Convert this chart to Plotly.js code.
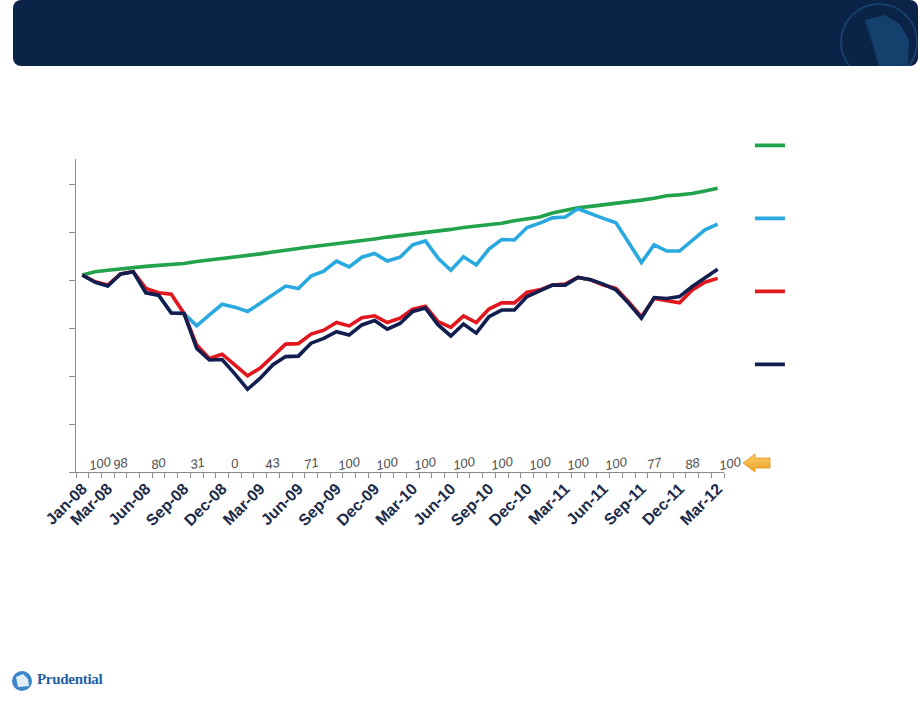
<!DOCTYPE html>
<html>
<head>
<meta charset="utf-8">
<script src="https://cdn.plot.ly/plotly-3.0.1.min.js"></script>
<style>
  body { margin: 0; background: #fff; }
  #page { position: relative; width: 919px; height: 704px; overflow: hidden; }
  #chart { position: absolute; left: 0; top: 0; width: 919px; height: 704px; }
  #header { position: absolute; left: 13px; top: 0; width: 905px; height: 66px; background: #0b2346; border-radius: 8px; overflow: hidden; }
  #header svg { position: absolute; left: 0; top: 0; }
  #arrow { position: absolute; left: 740px; top: 450px; }
  #brand { position: absolute; left: 10px; top: 668px; height: 26px; }
  #brand span { position: absolute; left: 27px; top: 3px; font-family: "Liberation Serif", "DejaVu Serif", serif; font-weight: bold; font-size: 15px; letter-spacing: -0.3px; color: #1f5fa6; white-space: nowrap; }
</style>
</head>
<body>
<div id="page">
  <div id="chart"></div>
  <div id="header">
    <svg width="905" height="66">
      <circle cx="866" cy="42" r="38" fill="none" stroke="#17406d" stroke-width="2"></circle>
      <path d="M852,20 L872,15 L887,24 L896,40 L895,66 L866,66 L860,45 Z" fill="#14406e"></path>
      <path d="M852,20 L860,45 L866,66" fill="none" stroke="#0f3560" stroke-width="1.5"></path>
    </svg>
  </div>
  <svg id="arrow" width="34" height="26">
    <defs>
      <linearGradient id="gold" x1="0" y1="0" x2="0" y2="1">
        <stop offset="0" stop-color="#fbd06a"></stop>
        <stop offset="1" stop-color="#eda023"></stop>
      </linearGradient>
    </defs>
    <path d="M3,13 L15,4 L15,8 L30,8 L30,18 L15,18 L15,22 Z" fill="url(#gold)" stroke="#e0961a" stroke-width="0.8"></path>
  </svg>
  <div id="brand">
    <svg width="24" height="26">
      <circle cx="12" cy="13" r="10" fill="#3a86c8"></circle>
      <path d="M6,9 L13,6 L18,11 L19,18 L8,19 Z" fill="#ffffff" opacity="0.85"></path>
    </svg>
    <span>Prudential</span>
  </div>
</div>
<script>
// month index 0 = Jan-08 ... 50 = Mar-12
const tickLabels = ["Jan-08", "Mar-08", "Jun-08", "Sep-08", "Dec-08", "Mar-09", "Jun-09", "Sep-09", "Dec-09",
  "Mar-10", "Jun-10", "Sep-10", "Dec-10", "Mar-11", "Jun-11", "Sep-11", "Dec-11", "Mar-12"];
const notes = ["100", "98", "80", "31", "0", "43", "71", "100", "100", "100", "100", "100", "100", "100", "100", "77", "88", "100"];

const greenLine = [100.0, 100.7, 101.0, 101.3, 101.5, 101.8, 102.0, 102.2, 102.4, 102.8,
  103.1, 103.4, 103.7, 104.1, 104.4, 104.8, 105.2, 105.6, 105.9, 106.2,
  106.5, 106.9, 107.2, 107.5, 107.9, 108.2, 108.5, 108.9, 109.2, 109.5,
  109.9, 110.2, 110.5, 110.8, 111.3, 111.7, 112.1, 112.9, 113.5, 114.0,
  114.3, 114.6, 114.9, 115.3, 115.6, 116.0, 116.5, 116.7, 117.0, 117.5, 118.1];
const blueLine = [100.0, 98.5, 97.7, 100.2, 100.7, 96.3, 95.8, 92.1, 92.0, 89.4,
  91.7, 93.9, 93.3, 92.4, 94.1, 95.8, 97.7, 97.2, 99.8, 100.8,
  102.9, 101.7, 103.7, 104.5, 102.9, 103.7, 106.3, 107.1, 103.5, 101.0,
  103.8, 102.1, 105.4, 107.4, 107.3, 109.9, 110.8, 111.9, 112.1, 113.8,
  112.7, 111.8, 110.9, 106.9, 102.6, 106.3, 105.0, 105.0, 107.3, 109.4, 110.6];
const redLine = [100.0, 98.6, 97.9, 100.2, 100.7, 97.2, 96.3, 96.0, 92.0, 85.4,
  82.6, 83.5, 81.3, 79.0, 80.6, 83.0, 85.6, 85.7, 87.7, 88.5,
  90.1, 89.4, 91.1, 91.5, 90.1, 91.0, 92.9, 93.5, 90.3, 89.1,
  91.5, 90.1, 92.9, 94.2, 94.2, 96.4, 96.9, 97.9, 98.1, 99.5,
  99.0, 97.9, 97.2, 94.4, 91.3, 95.1, 94.6, 94.2, 96.9, 98.5, 99.3];
const navyLine = [100.0, 98.5, 97.7, 100.2, 100.7, 96.3, 95.8, 92.1, 92.0, 84.7,
  82.3, 82.4, 79.4, 76.2, 78.5, 81.3, 83.0, 83.1, 85.8, 86.8,
  88.2, 87.5, 89.6, 90.5, 88.7, 89.9, 92.4, 93.1, 89.6, 87.3,
  89.8, 87.9, 91.3, 92.7, 92.7, 95.5, 96.7, 97.9, 97.9, 99.5,
  99.0, 98.1, 96.9, 94.1, 91.0, 95.3, 95.1, 95.5, 97.6, 99.5, 101.2];

const monthNames = ["Jan", "Feb", "Mar", "Apr", "May", "Jun", "Jul", "Aug", "Sep", "Oct", "Nov", "Dec"];
function monthIndex(label) {
  const [m, yy] = label.split("-");
  return (Number(yy) - 8) * 12 + monthNames.indexOf(m);
}
const tickvals = tickLabels.map(monthIndex);
const months = greenLine.map((_, i) => i);
const xRange = [-0.5, months.length - 0.5];

function series(values, color) {
  return {
    x: months,
    y: values,
    type: "scatter",
    mode: "lines",
    name: " ",
    legendgroup: color,
    hoverinfo: "skip",
    line: { color: color, width: 3.6 },
  };
}

const yMin = 58.96;

// the small figures sit one month after each date label; paper coords so the last one is kept
const annotations = notes.map((text, k) => ({
  x: (tickvals[k] + (k === 0 ? 1.4 : 1) - xRange[0]) / (xRange[1] - xRange[0]),
  y: 0,
  xref: "paper",
  yref: "paper",
  xanchor: "center",
  yanchor: "middle",
  yshift: 9,
  text: text,
  showarrow: false,
  textangle: -12,
  font: { family: "Liberation Sans, Arial, sans-serif", size: 13, style: "italic", color: "#4d4d4d" },
}));

Plotly.newPlot(
  "chart",
  [
    series(greenLine, "#21a24b"),
    series(blueLine, "#2aa9e0"),
    series(redLine, "#e2161d"),
    series(navyLine, "#111e4f"),
  ],
  {
    width: 919,
    height: 704,
    margin: { l: 76, r: 195, t: 159, b: 232 },
    paper_bgcolor: "#ffffff",
    plot_bgcolor: "#ffffff",
    showlegend: true,
    legend: {
      x: 1.04,
      y: 1.09,
      xanchor: "left",
      yanchor: "top",
      traceorder: "grouped",
      tracegroupgap: 54,
      font: { size: 12 },
      bgcolor: "rgba(0,0,0,0)",
    },
    xaxis: {
      range: xRange,
      tickmode: "array",
      tickvals: tickvals,
      ticktext: tickLabels,
      tickangle: -45,
      ticks: "",
      tickfont: { family: "Liberation Sans, Arial, sans-serif", size: 16, weight: "bold", color: "#1c2b4a" },
      showline: true,
      linecolor: "#8c8c8c",
      linewidth: 1,
      showgrid: false,
      zeroline: false,
      minor: { tickmode: "linear", tick0: -0.5, dtick: 1, ticks: "outside", ticklen: 5, tickcolor: "#8c8c8c", showgrid: false },
    },
    yaxis: {
      range: [yMin, 124.17],
      tickmode: "linear",
      tick0: yMin,
      dtick: 10,
      ticks: "outside",
      ticklen: 6,
      tickcolor: "#8c8c8c",
      showticklabels: false,
      showline: true,
      linecolor: "#8c8c8c",
      linewidth: 1,
      showgrid: false,
      zeroline: false,
    },
    annotations: annotations,
  },
  { displayModeBar: false, staticPlot: true }
);
</script>
</body>
</html>
